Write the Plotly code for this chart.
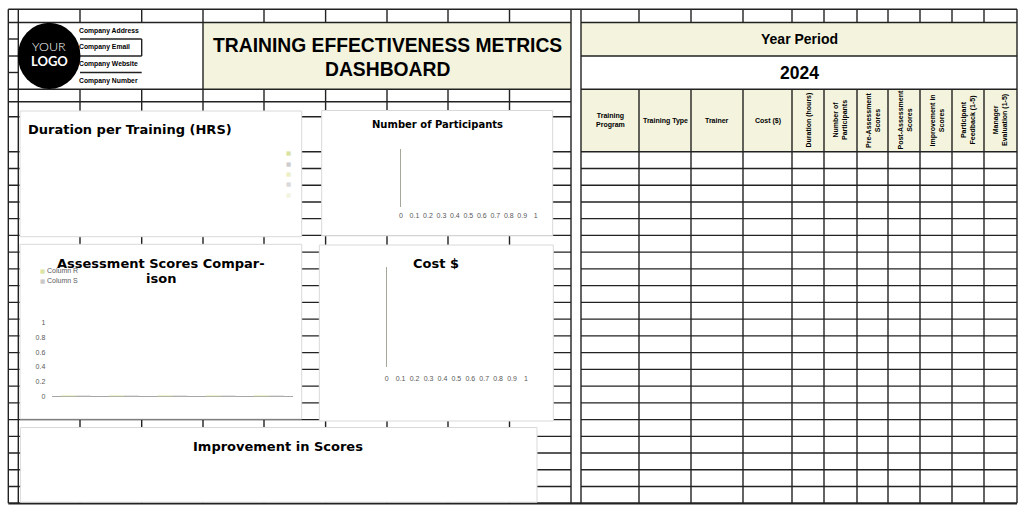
import plotly.graph_objects as go

W, H = 1025, 513

# ---------------- data ----------------
company_fields = ["Company Address", "Company Email", "Company Website", "Company Number"]
logo_lines = ["YOUR", "LOGO"]
dashboard_title_lines = ["TRAINING EFFECTIVENESS METRICS", "DASHBOARD"]
year_label = "Year Period"
year_value = "2024"
table_headers_flat = ["Training<br>Program", "Training Type", "Trainer", "Cost ($)"]
table_headers_rotated = ["Duration (hours)", "Number of<br>Participants", "Pre-Assessment<br>Scores",
                         "Post-Assessment<br>Scores", "Improvement in<br>Scores",
                         "Participant<br>Feedback (1-5)", "Manager<br>Evaluation (1-5)"]
table_row_count = 21

duration_title = "Duration per Training (HRS)"
duration_programs = ["P1", "P2", "P3", "P4", "P5"]
duration_hours = [0, 0, 0, 0, 0]

participants_title = "Number of Participants"
participants_programs = []
participants_counts = []

fraction_ticks = [0, 0.1, 0.2, 0.3, 0.4, 0.5, 0.6, 0.7, 0.8, 0.9, 1]
fraction_tick_labels = ["0", "0.1", "0.2", "0.3", "0.4", "0.5", "0.6", "0.7", "0.8", "0.9", "1"]

assessment_title_lines = ["Assessment Scores Compar-", "ison"]
assessment_series = ["Column R", "Column S"]
assessment_categories = ["1", "2", "3", "4", "5"]
column_r_scores = [0, 0, 0, 0, 0]
column_s_scores = [0, 0, 0, 0, 0]
score_ticks = [0, 0.2, 0.4, 0.6, 0.8, 1]
score_tick_labels = ["0", "0.2", "0.4", "0.6", "0.8", "1"]

cost_title = "Cost $"
cost_programs = []
cost_values = []

improvement_title = "Improvement in Scores"

# ---------------- style / geometry ----------------
GRID = "#222222"
PALE = "#f4f4de"
PANEL_BORDER = "#d9d9d9"
TICK_COLOR = "#595959"
R_COLOR = "#dce5a4"
S_COLOR = "#c9c9c9"
PIE_COLORS = ["#dbe3a3", "#cdcdcd", "#edf0c6", "#dadada", "#f3f4e2"]
SANS = "Liberation Sans, Arial, sans-serif"
TITLE_FONT = "DejaVu Sans, Verdana, sans-serif"
PADX = 3.5  # annotation inner padding compensation for left-anchored texts


def px(x):
    return x / W


def py(y):
    return 1 - y / H


shapes = []
annotations = []


def rect(x0, y0, x1, y1, fill, line_color=None, lw=0):
    shapes.append(dict(type="rect", xref="paper", yref="paper", x0=px(x0), x1=px(x1),
                       y0=py(y1), y1=py(y0), fillcolor=fill,
                       line=dict(color=line_color or fill, width=lw), layer="below"))


def hline(y, x0, x1, w=1.4, color=GRID):
    shapes.append(dict(type="line", xref="paper", yref="paper", x0=px(x0), x1=px(x1),
                       y0=py(y), y1=py(y), line=dict(color=color, width=w), layer="below"))


def vline(x, y0, y1, w=1.4, color=GRID):
    shapes.append(dict(type="line", xref="paper", yref="paper", x0=px(x), x1=px(x),
                       y0=py(y0), y1=py(y1), line=dict(color=color, width=w), layer="below"))


def text(x, y, s, size, color="#000000", family=SANS, xanchor="center", angle=0, weight=None):
    f = dict(size=size, color=color, family=family)
    if weight is not None:
        f["weight"] = weight
    if xanchor == "left":
        x = x - PADX
    annotations.append(dict(xref="paper", yref="paper", x=px(x), y=py(y), text=s,
                            showarrow=False, xanchor=xanchor, yanchor="middle",
                            textangle=angle, font=f, align="center"))


# grid geometry
left_cols = [8.3, 18.3, 80, 141.7, 203, 264, 325.6, 387, 448, 509.5, 571]
right_cols = [581, 639, 691, 743, 792, 824, 857, 888, 920, 952, 984, 1017]
TOP, R1, R2, R3, R4, HDR, A1, A2, BODY, BOTTOM = 9.3, 22.5, 39, 56, 72.5, 89.3, 101.7, 116.7, 151.7, 503.3
row_step = (BOTTOM - BODY) / table_row_count
body_rows = [BODY + k * row_step for k in range(table_row_count + 1)]

# fills
rect(203, R1, 571, HDR, PALE)
rect(581, R1, 1017, R3, PALE)
rect(581, HDR, 1017, BODY, PALE)

# left area horizontals
hline(TOP, 8.3, 1017)
hline(R1, 8.3, 571)
for yy in (R2, R3, R4):
    hline(yy, 8.3, 18.3)
    hline(yy, 80, 141.7)
for yy in [HDR, A1, A2] + body_rows[:-1]:
    hline(yy, 8.3, 571)
hline(BOTTOM, 8.3, 1017, w=2.2)

# left area verticals
for xx in left_cols:
    if xx in (8.3, 18.3, 203, 571):
        vline(xx, TOP, BOTTOM)
    else:
        vline(xx, TOP, R1)
        vline(xx, HDR, BOTTOM)
vline(141.7, R2, R3)

# right table
for yy in [R1, R3, HDR] + body_rows[:-1]:
    hline(yy, 581, 1017)
for xx in right_cols:
    if xx in (581, 1017):
        vline(xx, TOP, BOTTOM)
    else:
        vline(xx, TOP, R1)
        vline(xx, HDR, BOTTOM)

# chart panels
panels = [(20, 111, 301.7, 236.7), (321.7, 110.5, 552.7, 235.8), (20, 244.3, 301.7, 419),
          (319.3, 245, 553.3, 421), (20.4, 427.5, 537, 502.2)]
for (a, b, c, d) in panels:
    rect(a, b, c, d, "#ffffff", PANEL_BORDER, 1)

# logo circle
shapes.append(dict(type="circle", xref="paper", yref="paper", x0=px(17.8), x1=px(80.5),
                   y0=py(89), y1=py(22.8), fillcolor="#000000", line=dict(color="#000000", width=0),
                   layer="below"))

# ---------------- texts ----------------
text(49.2, 47, logo_lines[0], 12.5, "#ffffff", "Lato Light, Lato, Noto Sans, sans-serif", weight=300)
text(49.2, 61, "<b>" + logo_lines[1] + "</b>", 13, "#ffffff", "Lato, Noto Sans, sans-serif")
for s, yy in zip(company_fields, [30.5, 47, 64, 81]):
    text(80.5, yy, "<b>" + s + "</b>", 6.8, xanchor="left")
text(387, 45.5, "<b>" + dashboard_title_lines[0] + "</b>", 19.3)
text(387, 69.5, "<b>" + dashboard_title_lines[1] + "</b>", 19.3)
text(799, 39.3, "<b>" + year_label + "</b>", 14)
text(799, 73.3, "<b>" + year_value + "</b>", 17.5)

for i, s in enumerate(table_headers_flat):
    cx = (right_cols[i] + right_cols[i + 1]) / 2
    text(cx, 120.7, "<b>" + s + "</b>", 7)
for j, s in enumerate(table_headers_rotated):
    i = j + len(table_headers_flat)
    cx = (right_cols[i] + right_cols[i + 1]) / 2
    text(cx, 120.5, "<b>" + s + "</b>", 7, angle=-90)

# chart 1 legend markers (unlabelled)
for c, yy in zip(PIE_COLORS, [153.3, 164, 174.2, 184.3, 194.7]):
    text(288.3, yy, "■", 5.5, c, "DejaVu Sans")
text(29.3, 129.3, "<b>" + duration_title + "</b>", 13, family=TITLE_FONT, xanchor="left")
text(437.8, 124.3, "<b>" + participants_title + "</b>", 10, family=TITLE_FONT)

# chart 3 legend then title
text(42.7, 270.9, "■", 5.5, R_COLOR, "DejaVu Sans")
text(42.7, 280.9, "■", 5.5, S_COLOR, "DejaVu Sans")
text(48.5, 270.7, assessment_series[0], 7, TICK_COLOR, xanchor="left")
text(48.5, 280.7, assessment_series[1], 7, TICK_COLOR, xanchor="left")
text(160.8, 263.3, "<b>" + assessment_title_lines[0] + "</b>", 13, family=TITLE_FONT)
text(160.8, 278.3, "<b>" + assessment_title_lines[1] + "</b>", 13, family=TITLE_FONT)

text(436, 263.3, "<b>" + cost_title + "</b>", 13, family=TITLE_FONT)
text(278, 446, "<b>" + improvement_title + "</b>", 13, family=TITLE_FONT)

# ---------------- traces ----------------
fig = go.Figure()

fig.add_trace(go.Pie(labels=duration_programs, values=duration_hours, sort=False,
                     marker=dict(colors=PIE_COLORS), textinfo="none", showlegend=False,
                     domain=dict(x=[px(60), px(250)], y=[py(230), py(145)])))

fig.add_trace(go.Bar(y=participants_programs, x=participants_counts, orientation="h",
                     marker_color=R_COLOR, xaxis="x2", yaxis="y2", showlegend=False))

fig.add_trace(go.Bar(x=assessment_categories, y=column_r_scores, name=assessment_series[0],
                     marker=dict(color=R_COLOR, line=dict(color=R_COLOR, width=1.5)),
                     xaxis="x3", yaxis="y3", showlegend=False))
fig.add_trace(go.Bar(x=assessment_categories, y=column_s_scores, name=assessment_series[1],
                     marker=dict(color=S_COLOR, line=dict(color=S_COLOR, width=1.5)),
                     xaxis="x3", yaxis="y3", showlegend=False))

fig.add_trace(go.Bar(y=cost_programs, x=cost_values, orientation="h",
                     marker_color=R_COLOR, xaxis="x4", yaxis="y4", showlegend=False))

tick_font = dict(family=SANS, size=7, color=TICK_COLOR)


def frac_xaxis(x0, x1, anchor, ticklen):
    return dict(domain=[px(x0), px(x1)], anchor=anchor, range=[0, 1], tickmode="array",
                tickvals=fraction_ticks, ticktext=fraction_tick_labels, showgrid=False,
                zeroline=False, showline=False, ticks="outside", ticklen=ticklen,
                tickcolor="rgba(0,0,0,0)", tickfont=tick_font, fixedrange=True,
                automargin=False)


def bar_yaxis(y0, y1, anchor):
    return dict(domain=[py(y1), py(y0)], anchor=anchor, range=[0, 1], showgrid=False,
                zeroline=False, showline=True, linecolor="#a6a69a", linewidth=1.2,
                showticklabels=False, ticks="", fixedrange=True, automargin=False)


fig.update_layout(
    width=W, height=H, autosize=False,
    margin=dict(l=0, r=0, t=0, b=0, pad=0, autoexpand=False),
    paper_bgcolor="#ffffff", plot_bgcolor="rgba(0,0,0,0)",
    showlegend=False, barmode="group", bargap=0.375, bargroupgap=0,
    xaxis=dict(visible=False, domain=[0, 1], automargin=False),
    yaxis=dict(visible=False, domain=[0, 1], automargin=False),
    xaxis2=frac_xaxis(401, 535.7, "y2", 2),
    yaxis2=bar_yaxis(149, 206.7, "x2"),
    xaxis3=dict(domain=[px(51.7), px(292.7)], anchor="y3", type="category",
                categoryorder="array", categoryarray=assessment_categories,
                showgrid=False, zeroline=False, showline=True, linecolor="#a6a6a6",
                linewidth=1.2, showticklabels=False, ticks="", layer="below traces",
                fixedrange=True, automargin=False),
    yaxis3=dict(domain=[py(396.3), py(322.7)], anchor="x3", range=[0, 1], tickmode="array",
                tickvals=score_ticks, ticktext=score_tick_labels, showgrid=False,
                zeroline=False, showline=False, ticks="outside", ticklen=4,
                tickcolor="rgba(0,0,0,0)", tickfont=tick_font, fixedrange=True,
                automargin=False),
    xaxis4=frac_xaxis(386.7, 526, "y4", 4),
    yaxis4=bar_yaxis(267.3, 367.3, "x4"),
    shapes=shapes,
    annotations=annotations,
)

fig.write_html("out.html")
